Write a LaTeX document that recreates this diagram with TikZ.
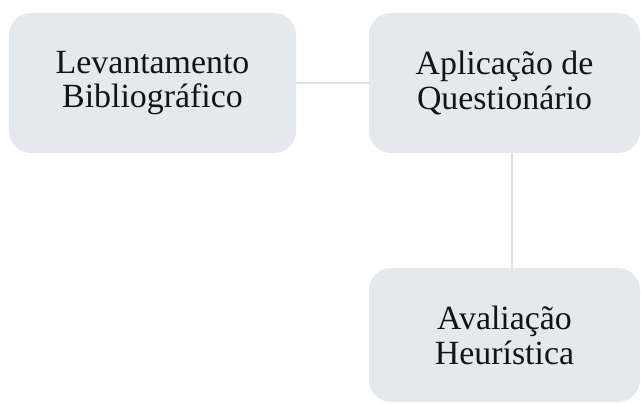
\documentclass[tikz,border=0pt]{standalone}
\usepackage{xcolor}
\usepackage{fontspec}
\setmainfont{Liberation Serif}
\usepackage{tikz}
\definecolor{stepfill}{RGB}{229,232,236}
\definecolor{linkgray}{RGB}{221,224,228}
\definecolor{textdark}{RGB}{20,20,20}

\begin{document}
\begin{tikzpicture}[x=1bp, y=-1bp,
  stage/.style = {fill=stepfill, rounded corners=22bp, align=center,
    text=textdark, font=\fontsize{34}{35}\selectfont, inner sep=0pt},
  link/.style = {draw=linkgray, line width=1.6bp}
]
\useasboundingbox (0,0) rectangle (641,403);
\node[stage, minimum width=287bp, minimum height=140bp] (levant) at (152.5,83) {Levantamento\\Bibliográfico};
\node[stage, minimum width=271bp, minimum height=140bp] (quest) at (504.5,83) {Aplicação de\\Questionário};
\node[stage, minimum width=271bp, minimum height=134bp] (heur) at (504.5,335) {Avaliação\\Heurística};
\draw[link] (levant) -- (quest);
\draw[link] (quest.south -| 512,0) -- (heur.north -| 512,0);
\end{tikzpicture}
\end{document}
